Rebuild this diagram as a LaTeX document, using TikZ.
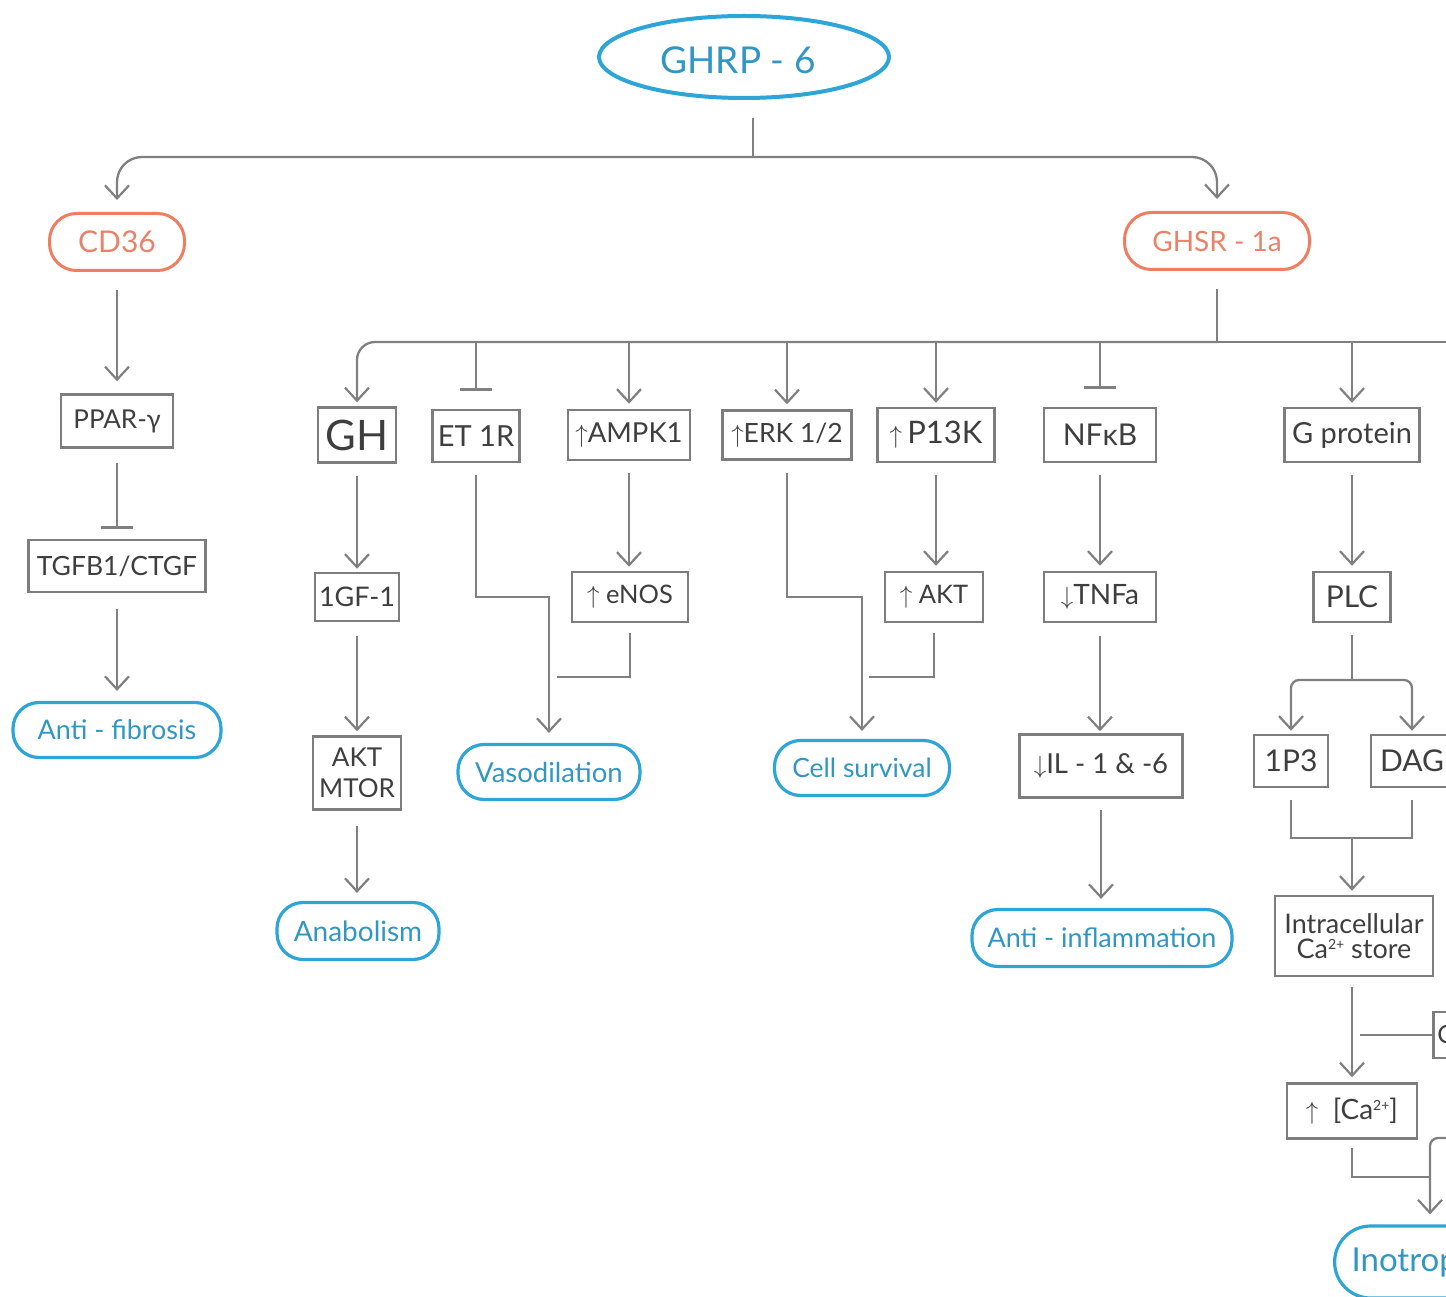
\documentclass[tikz,border=0pt]{standalone}
\usepackage{fontspec}
\setmainfont{Lato}
\usetikzlibrary{arrows.meta,shapes.geometric,calc}
\definecolor{lnc}{RGB}{128,128,128}
\definecolor{bxc}{RGB}{125,125,125}
\definecolor{txc}{RGB}{62,62,62}
\definecolor{blu}{RGB}{45,165,215}
\definecolor{blut}{RGB}{50,150,195}
\definecolor{org}{RGB}{240,125,95}
\definecolor{orgt}{RGB}{232,130,105}
\newcommand\fs[1]{\fontsize{#1}{#1}\selectfont}
\newcommand\supsc[1]{\raisebox{9pt}{\fs{14}#1}}
\begin{document}
\begin{tikzpicture}[x=1pt,y=-1pt,
 bx/.style={draw=bxc, line width=2.5pt, text=txc, inner sep=0pt, align=center},
 pill/.style={draw=blu, line width=3.2pt, text=blut, inner sep=0pt, rounded corners=26pt},
 opill/.style={draw=org, line width=3pt, text=orgt, inner sep=0pt, rounded corners=27pt},
 ln/.style={draw=lnc, line width=2.3pt},
 ar/.style={ln, -{Straight Barb[length=13pt,width=24pt,line width=2.2pt]}},
 inh/.style={ln, -{Bar[width=32pt,line width=2.3pt]}},
]
\useasboundingbox (0,0) rectangle (1446,1297);
\clip (0,0) rectangle (1446,1297);

% top
\node[ellipse, draw=blu, line width=4pt, minimum width=290pt, minimum height=82pt, inner sep=0pt] (ghrp) at (744,57) {};
\node[text=blut] at (738,60) {\fs{37}GHRP - 6};
\node[opill, minimum width=135pt, minimum height=57pt] (cd36) at (117,242) {\fs{30}CD36};
\node[opill, minimum width=185pt, minimum height=57pt] (ghsr) at (1217,241) {\fs{28}GHSR - 1a};

\coordinate (top) at (753,157);
\draw[ln] ([xshift=9pt,yshift=-18pt]ghrp.south) -- (top);
\draw[ar, rounded corners=25pt, shorten >=12pt] (top) -| (cd36.north);
\draw[ar, rounded corners=25pt, shorten >=12pt] (top) -| (ghsr.north);

% CD36 branch
\node[bx, minimum width=112pt, minimum height=53pt] (ppar) at (117,421) {\fs{26}PPAR-γ};
\node[bx, minimum width=177pt, minimum height=52pt] (tgfb) at (117,566) {\fs{26.5}TGFB1/CTGF};
\node[pill, minimum width=208pt, minimum height=55pt] (afib) at (117,730) {\fs{27}Anti - fibrosis};
\draw[ar, shorten <=18pt, shorten >=12pt] (cd36.south) -- (ppar.north);
\draw[inh, shorten <=14pt, shorten >=10pt] (ppar.south) -- (tgfb.north);
\draw[ar, shorten <=16pt, shorten >=10pt] (tgfb.south) -- (afib.north);

% GHSR hub
\coordinate (hub) at (1217,342);
\coordinate (hubR) at (1470,342);
\draw[ln, shorten <=18pt] (ghsr.south) -- (hub);
\draw[ln] (hub) -- (hubR);

% row of targets
\node[bx, minimum width=78pt, minimum height=55pt] (gh) at (357,435) {\fs{42}GH};
\node[bx, minimum width=87pt, minimum height=52pt] (et1r) at (476,436) {\fs{29}ET 1R};
\node[bx, minimum width=122pt, minimum height=50pt] (ampk) at (629,435) {\fs{27.5}$\uparrow$AMPK1};
\node[bx, minimum width=129pt, minimum height=49pt] (erk) at (787,435) {\fs{26.5}$\uparrow$ERK 1/2};
\node[bx, minimum width=117pt, minimum height=54pt] (p13k) at (936,435) {\fs{31}$\uparrow$\,P13K};
\node[bx, minimum width=112pt, minimum height=54pt] (nfkb) at (1100,435) {\fs{30}NFκB};
\node[bx, minimum width=135pt, minimum height=54pt] (gprot) at (1352,435) {\fs{29}G protein};

\draw[ar, rounded corners=18pt, shorten >=4pt] (hub) -| (gh.north);
\draw[inh, shorten >=18pt] (et1r.north |- hub) -- (et1r.north);
\draw[ar, shorten >=5pt] (ampk.north |- hub) -- (ampk.north);
\draw[ar, shorten >=5pt] (erk.north |- hub) -- (erk.north);
\draw[ar, shorten >=4pt] (p13k.north |- hub) -- (p13k.north);
\draw[inh, shorten >=18pt] (nfkb.north |- hub) -- (nfkb.north);
\draw[ar, shorten >=4pt] (gprot.north |- hub) -- (gprot.north);

% GH column
\node[bx, minimum width=84pt, minimum height=48pt] (igf) at (357,597) {\fs{27}1GF-1};
\node[bx, minimum width=88pt, minimum height=73pt, font={\fontsize{26}{31}\selectfont}] (aktm) at (357,773) {AKT\\MTOR};
\node[pill, minimum width=162pt, minimum height=57pt] (anab) at (358,931) {\fs{28}Anabolism};
\draw[ar, shorten <=12pt, shorten >=3pt] (gh.south) -- (igf.north);
\draw[ar, shorten <=14pt, shorten >=4pt] (igf.south) -- (aktm.north);
\draw[ar, shorten <=15pt, shorten >=8pt] (aktm.south) -- (aktm.south |- anab.north);

% ET1R / AMPK -> vasodilation
\node[bx, minimum width=116pt, minimum height=50pt] (enos) at (630,597) {\fs{25.5}$\uparrow$ eNOS};
\node[pill, minimum width=182pt, minimum height=55pt] (vaso) at (549,772) {\fs{27.5}Vasodilation};
\draw[ar, shorten <=12pt, shorten >=4pt] (ampk.south) -- (ampk.south |- enos.north);
\draw[ar, shorten <=12pt, shorten >=10pt] (et1r.south) |- (vaso.north |- 0,597) -- (vaso.north);
\coordinate (vj) at (557,677);
\draw[ln, shorten <=10pt] (enos.south) |- (vj);

% ERK / P13K -> cell survival
\node[bx, minimum width=98pt, minimum height=50pt] (akt) at (934,597) {\fs{25.5}$\uparrow$ AKT};
\node[pill, minimum width=175pt, minimum height=55pt] (cells) at (862,768) {\fs{26.5}Cell survival};
\draw[ar, shorten <=12pt, shorten >=5pt] (p13k.south) -- (p13k.south |- akt.north);
\draw[ar, shorten <=12pt, shorten >=8pt] (erk.south) |- (cells.north |- 0,597) -- (cells.north);
\coordinate (cj) at (869,677);
\draw[ln, shorten <=10pt] (akt.south) |- (cj);

% NFkB column
\node[bx, minimum width=112pt, minimum height=50pt] (tnfa) at (1100,597) {\fs{28}$\downarrow$TNFa};
\node[bx, minimum width=163pt, minimum height=63pt] (il) at (1101,766) {\fs{27.5}$\downarrow$IL - 1 \& -6};
\node[pill, minimum width=260pt, minimum height=57pt] (ainf) at (1102,938) {\fs{27}Anti - inflammation};
\draw[ar, shorten <=12pt, shorten >=5pt] (nfkb.south) -- (tnfa.north);
\draw[ar, shorten <=13pt, shorten >=2pt] (tnfa.south) -- (tnfa.south |- il.north);
\draw[ar, shorten <=11pt, shorten >=9pt] (il.south) -- (il.south |- ainf.north);

% G protein column
\node[bx, minimum width=77pt, minimum height=50pt] (plc) at (1352,597) {\fs{30}PLC};
\node[bx, minimum width=74pt, minimum height=52pt] (ip3) at (1291,761) {\fs{30}1P3};
\node[bx, minimum width=82pt, minimum height=52pt] (dag) at (1412,761) {\fs{30}DAG};
\draw[ar, shorten <=12pt, shorten >=5pt] (gprot.south) -- (plc.north);
\coordinate (pj) at (1352,680);
\draw[ln, shorten <=12pt] (plc.south) -- (pj);
\draw[ar, rounded corners=8pt, shorten >=3pt] (pj) -| (ip3.north);
\draw[ar, rounded corners=8pt, shorten >=3pt] (pj) -| (dag.north);
\coordinate (bj) at (1352,838);
\draw[ln, shorten <=12pt, shorten >=12pt] (ip3.south) |- (dag.south |- bj) -- (dag.south);
\node[bx, minimum width=158pt, minimum height=80pt, font={\fontsize{27}{25}\selectfont}] (intra) at (1354,936) {Intracellular\\Ca\supsc{2+} store};
\draw[ar, shorten >=4pt] (bj) -- (bj |- intra.north);
\node[bx, minimum width=130pt, minimum height=55pt] (ca) at (1352,1111) {\fs{28}$\uparrow$\ \ [Ca\supsc{2+}]};
\draw[ar, shorten <=10pt, shorten >=5pt] (ca.north |- intra.south) -- (ca.north);
\node[bx, anchor=west, minimum height=46pt, text width=52pt, inner xsep=4pt, align=left] (cbox) at (1432,1035) {\fs{25}C};
\coordinate (cj2) at (1360,1035);
\draw[ln] (cbox.west) -- (cj2);

% Inotropy
\node[pill, anchor=west, minimum height=72pt, rounded corners=36pt, text width=170pt, inner xsep=17pt, align=left] (ino) at (1333,1262) {\fs{33}Inotropy};
\coordinate (caj) at (1430,1177);
\coordinate (rin) at (1470,1138);
\draw[ln, shorten <=8pt] (ca.south) |- (caj);
\draw[ar, rounded corners=8pt, shorten >=10pt] (rin) -| (caj |- ino.north);
\end{tikzpicture}
\end{document}
